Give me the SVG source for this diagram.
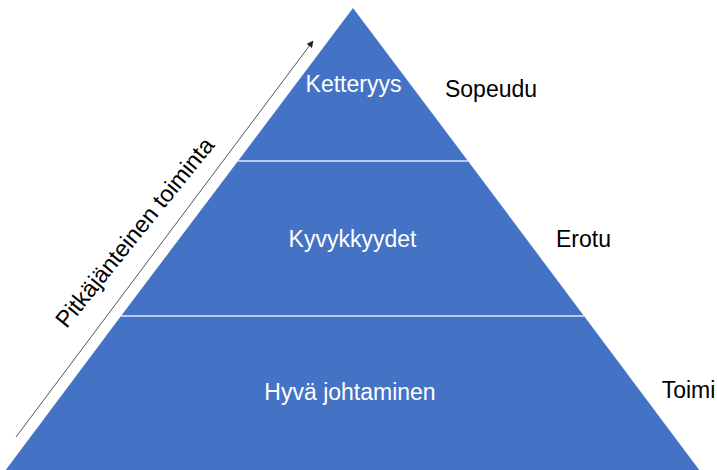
<svg xmlns="http://www.w3.org/2000/svg" width="717" height="470" viewBox="0 0 717 470">
  <defs>
    <marker id="arrowhead" viewBox="0 0 10 10" refX="9" refY="5" markerWidth="7" markerHeight="7" orient="auto-start-reverse" markerUnits="userSpaceOnUse">
      <path d="M0,0 L10,5 L0,10 z" fill="#222"/>
    </marker>
  </defs>
  <style>
    .tier { fill: #4472C4; }
    .divider { stroke: #E3E9F2; stroke-width: 1.6; }
    .inner { font-family: "Liberation Sans", Arial, sans-serif; font-size: 23px; fill: #ffffff; text-anchor: middle; }
    .side { font-family: "Liberation Sans", Arial, sans-serif; font-size: 23px; fill: #000000; text-anchor: middle; }
    .axis { stroke: #555; stroke-width: 1; fill: none; }
  </style>
  <rect width="717" height="470" fill="#ffffff"/>

  <!-- top tier -->
  <g id="tier-top">
    <polygon class="tier" points="353,8 468,161 238,161"/>
    <text class="inner" x="353.5" y="92">Ketteryys</text>
  </g>
  <!-- middle tier -->
  <g id="tier-middle">
    <polygon class="tier" points="238,161 468,161 584,316 121,316"/>
    <text class="inner" x="352.5" y="247">Kyvykkyydet</text>
  </g>
  <!-- bottom tier -->
  <g id="tier-bottom">
    <polygon class="tier" points="121,316 584,316 700,471 5,471"/>
    <text class="inner" x="350" y="400">Hyvä johtaminen</text>
  </g>

  <!-- tier dividers -->
  <g id="dividers">
    <line class="divider" x1="238" y1="161" x2="468" y2="161"/>
    <line class="divider" x1="121" y1="316" x2="584" y2="316"/>
  </g>

  <!-- side labels -->
  <g id="label-sopeudu"><text class="side" x="491" y="97">Sopeudu</text></g>
  <g id="label-erotu"><text class="side" x="583.5" y="247">Erotu</text></g>
  <g id="label-toimi"><text class="side" x="688.5" y="398">Toimi</text></g>

  <!-- long-term arrow -->
  <g id="connectors">
    <line class="axis" x1="16" y1="437" x2="313" y2="41" marker-end="url(#arrowhead)"/>
  </g>
  <g id="label-axis">
    <text class="side" transform="translate(141,237.5) rotate(-51)" x="0" y="0" style="font-size:23.5px">Pitkäjänteinen toiminta</text>
  </g>
</svg>
